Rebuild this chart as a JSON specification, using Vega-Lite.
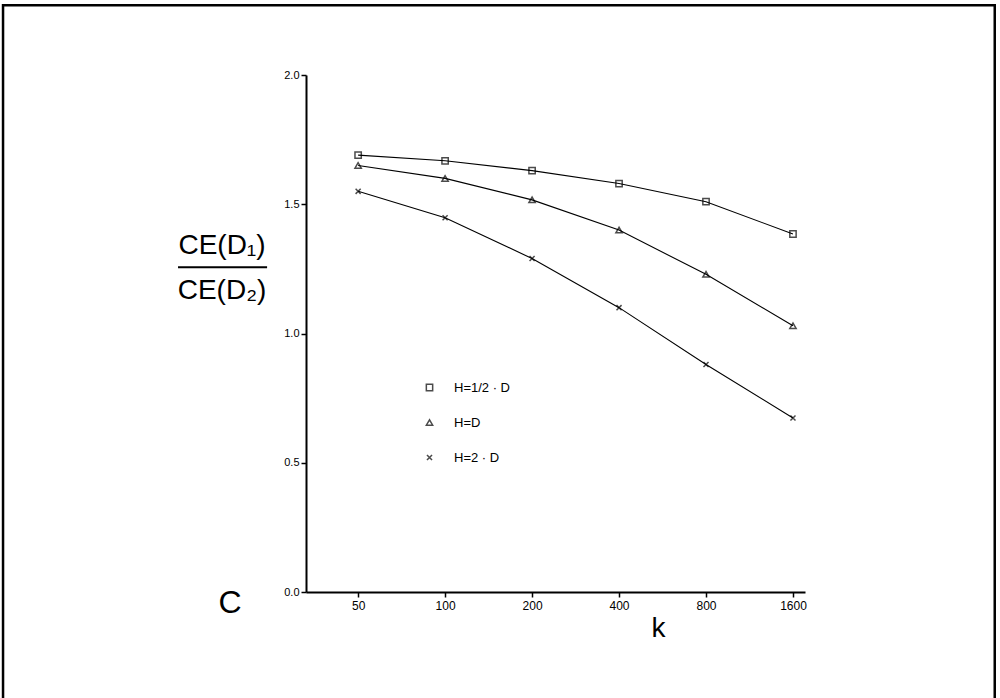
{
  "$schema": "https://vega.github.io/schema/vega-lite/v6.json",
  "autosize": {"type": "none"},
  "padding": {"left": 306, "top": 75, "right": 195, "bottom": 106},
  "width": 499,
  "height": 517,
  "background": "white",
  "config": {
    "view": {"stroke": null},
    "font": "Liberation Sans",
    "axis": {"domainColor": "black", "tickColor": "black", "labelColor": "black", "titleColor": "black", "grid": false, "labelFont": "Liberation Sans", "titleFont": "Liberation Sans", "titleFontWeight": "normal"},
    "legend": {"labelFont": "Liberation Sans", "labelColor": "black"}
  },
  "datasets": {
    "ratio": [
      {"k": 50, "value": 1.69, "series": "H=1/2 · D"},
      {"k": 100, "value": 1.668, "series": "H=1/2 · D"},
      {"k": 200, "value": 1.63, "series": "H=1/2 · D"},
      {"k": 400, "value": 1.58, "series": "H=1/2 · D"},
      {"k": 800, "value": 1.51, "series": "H=1/2 · D"},
      {"k": 1600, "value": 1.385, "series": "H=1/2 · D"},
      {"k": 50, "value": 1.65, "series": "H=D"},
      {"k": 100, "value": 1.60, "series": "H=D"},
      {"k": 200, "value": 1.517, "series": "H=D"},
      {"k": 400, "value": 1.40, "series": "H=D"},
      {"k": 800, "value": 1.229, "series": "H=D"},
      {"k": 1600, "value": 1.03, "series": "H=D"},
      {"k": 50, "value": 1.55, "series": "H=2 · D"},
      {"k": 100, "value": 1.448, "series": "H=2 · D"},
      {"k": 200, "value": 1.29, "series": "H=2 · D"},
      {"k": 400, "value": 1.10, "series": "H=2 · D"},
      {"k": 800, "value": 0.88, "series": "H=2 · D"},
      {"k": 1600, "value": 0.673, "series": "H=2 · D"}
    ],
    "one": [{}]
  },
  "layer": [
    {
      "data": {"name": "one"},
      "mark": {"type": "rect", "fill": null, "stroke": "black", "strokeWidth": 2.5, "clip": false},
      "encoding": {
        "x": {"datum": 2.95, "type": "quantitative"},
        "x2": {"datum": 7990},
        "y": {"datum": 2.27, "type": "quantitative"},
        "y2": {"datum": -0.42}
      }
    },
    {
      "data": {"name": "ratio"},
      "mark": {"type": "line", "color": "black", "strokeWidth": 1.1},
      "encoding": {
        "x": {"field": "k", "type": "quantitative",
              "scale": {"type": "log", "base": 2, "domain": [33, 1761], "nice": false, "zero": false},
              "axis": {"values": [50, 100, 200, 400, 800, 1600], "format": "d", "labelFontSize": 12, "tickSize": 5, "tickWidth": 1.5, "domainWidth": 2, "labelPadding": 3,
                       "title": "k", "titleFontSize": 28, "titleX": 352, "titleY": 22, "titleAnchor": null, "titleAlign": "center", "titleBaseline": "top"}},
        "y": {"field": "value", "type": "quantitative",
              "scale": {"domain": [0, 2], "nice": false},
              "axis": {"values": [0, 0.5, 1, 1.5, 2], "format": ".1f", "labelFontSize": 11, "tickSize": 5, "tickWidth": 1.5, "domainWidth": 2, "labelPadding": 2, "title": null}},
        "detail": {"field": "series"}
      }
    },
    {
      "data": {"name": "ratio"},
      "mark": {"type": "point", "filled": false, "color": "black", "strokeWidth": 1.5, "size": 40},
      "encoding": {
        "x": {"field": "k", "type": "quantitative"},
        "y": {"field": "value", "type": "quantitative"},
        "shape": {"field": "series", "type": "nominal",
                  "scale": {"domain": ["H=1/2 · D", "H=D", "H=2 · D"], "range": ["square", "triangle-up", "M-0.8,-0.8L0.8,0.8M-0.8,0.8L0.8,-0.8"]},
                  "legend": {"title": null, "orient": "none", "legendX": 117, "legendY": 306, "labelFontSize": 13, "labelOffset": 18, "rowPadding": 21, "symbolSize": 40, "symbolStrokeWidth": 1.5, "symbolStrokeColor": "black", "symbolFillColor": "transparent"}}
      }
    },
    {
      "data": {"name": "one"},
      "mark": {"type": "text", "text": "C", "fontSize": 32, "align": "center", "baseline": "middle", "clip": false, "font": "Liberation Sans"},
      "encoding": {
        "x": {"datum": 18.0, "type": "quantitative"},
        "y": {"datum": -0.043, "type": "quantitative"}
      }
    },
    {
      "data": {"name": "one"},
      "mark": {"type": "text", "text": "CE(D₁)", "fontSize": 28, "align": "center", "baseline": "middle", "clip": false, "font": "Liberation Sans"},
      "encoding": {
        "x": {"datum": 16.9, "type": "quantitative"},
        "y": {"datum": 1.337, "type": "quantitative"}
      }
    },
    {
      "data": {"name": "one"},
      "mark": {"type": "text", "text": "CE(D₂)", "fontSize": 28, "align": "center", "baseline": "middle", "clip": false, "font": "Liberation Sans"},
      "encoding": {
        "x": {"datum": 16.9, "type": "quantitative"},
        "y": {"datum": 1.163, "type": "quantitative"}
      }
    },
    {
      "data": {"name": "one"},
      "mark": {"type": "rule", "color": "black", "strokeWidth": 2, "clip": false},
      "encoding": {
        "x": {"datum": 11.9, "type": "quantitative"},
        "x2": {"datum": 24.2},
        "y": {"datum": 1.256, "type": "quantitative"}
      }
    }
  ]
}
